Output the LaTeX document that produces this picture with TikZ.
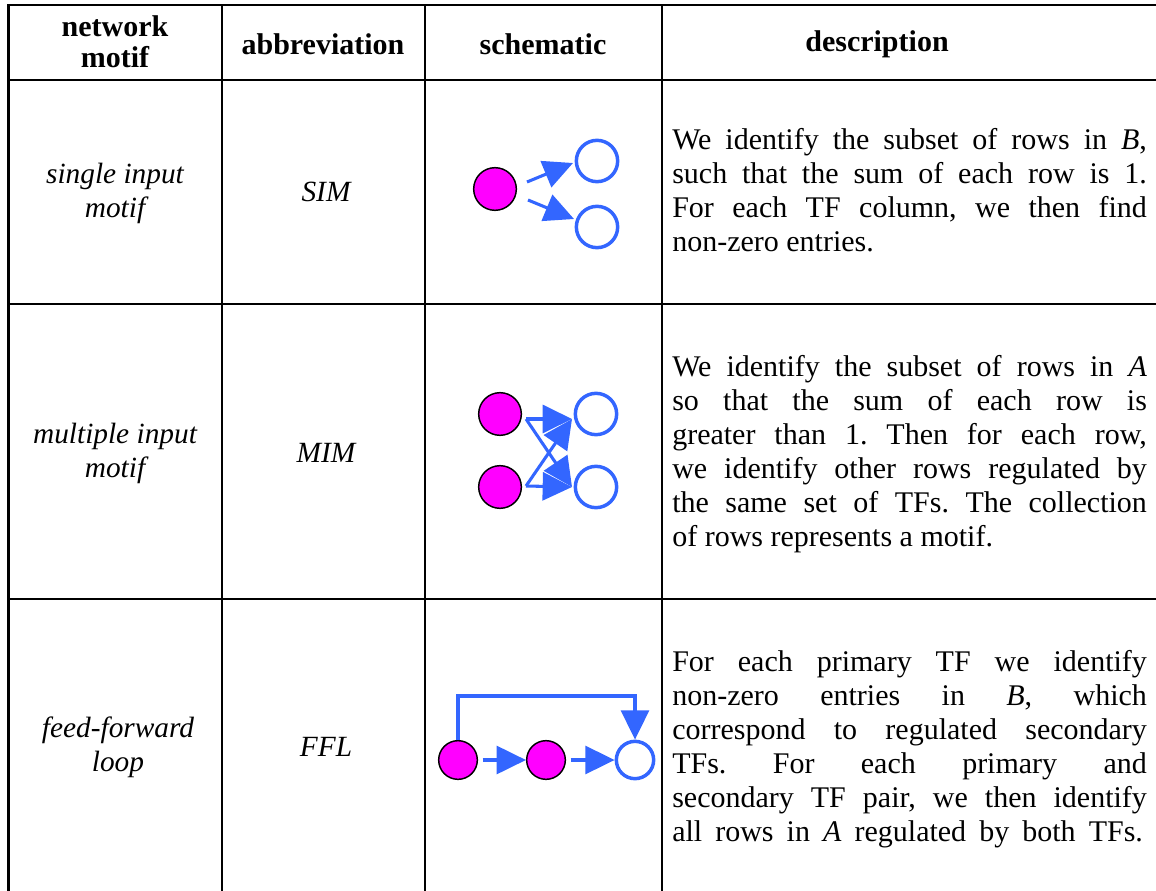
\documentclass[tikz,border=0pt]{standalone}
\usepackage{fontspec}
\setmainfont{Liberation Serif}
\usetikzlibrary{arrows.meta}
\definecolor{netblue}{RGB}{51,102,255}
\definecolor{tfmag}{RGB}{255,0,255}
\frenchspacing

% width of a justified description line
\newlength{\dw}\setlength{\dw}{356pt}
\newcommand{\jl}[1]{\makebox[\dw][s]{#1}}

\begin{document}
\begin{tikzpicture}[x=0.75pt,y=-0.75pt,
  grid/.style={line width=2pt, black, line join=miter},
  tf/.style={circle, draw=black, line width=1.1pt, fill=tfmag, minimum size=#1, inner sep=0pt},
  tf/.default=32pt,
  gene/.style={circle, draw=netblue, line width=2.6pt, fill=white, minimum size=#1, inner sep=0pt},
  gene/.default=31pt,
  reg/.style={draw=netblue, line width=2.3pt, -{Triangle[length=22pt,width=21pt]}},
  hdr/.style={font=\bfseries\fontsize{22.5}{23.5}\selectfont, align=center, inner sep=0pt},
  cell/.style={font=\itshape\fontsize{22}{25.5}\selectfont, align=center, inner sep=0pt},
  desc/.style={font=\fontsize{22.5}{25.5}\selectfont, align=left, anchor=west, inner sep=0pt}]

\useasboundingbox (0,0) rectangle (1156,891);

% table rules
\draw[grid] (8.5,891) -- (8.5,5) -- (1156,5);
\foreach \yy in {80,304,599} \draw[grid] (8.5,\yy) -- (1156,\yy);
\foreach \xx in {222,425,662} \draw[grid] (\xx,5) -- (\xx,891);

% header
\node[hdr] (hmotif) at (115,42) {network\\motif};
\node[hdr] (habbr) at (323,44) {abbreviation};
\node[hdr] (hsch) at (543,44) {schematic};
\node[hdr] (hdesc) at (877,44) {description};

% motif names and abbreviations
\node[cell] (nsim) at (115,193) {single input\\motif};
\node[cell] (asim) at (326,192) {SIM};
\node[cell] (nmim) at (115,453) {multiple input\\motif};
\node[cell] (amim) at (326,453) {MIM};
\node[cell] (nffl) at (118,747) {feed-forward\\loop};
\node[cell] (affl) at (326,747) {FFL};

% descriptions
\node[desc] (dsim) at (672,190) {%
  \jl{We identify the subset of rows in \textit{B},}\\
  \jl{such that the sum of each row is 1.}\\
  \jl{For each TF column, we then find}\\
  non-zero entries.};
\node[desc] (dmim) at (672,454) {%
  \jl{We identify the subset of rows in \textit{A}}\\
  \jl{so that the sum of each row is}\\
  \jl{greater than 1. Then for each row,}\\
  \jl{we identify other rows regulated by}\\
  \jl{the same set of TFs. The collection}\\
  of rows represents a motif.};
\node[desc] (dffl) at (672,749) {%
  \jl{For each primary TF we identify}\\
  \jl{non-zero entries in \textit{B}, which}\\
  \jl{correspond to regulated secondary}\\
  \jl{TFs. For each primary and}\\
  \jl{secondary TF pair, we then identify}\\
  \makebox[353pt][s]{all rows in \textit{A} regulated by both TFs.}};

% single input motif
\node[tf] (s0) at (495,189) {};
\node[gene] (s1) at (597,161) {};
\node[gene] (s2) at (597,227) {};
\coordinate (s0a) at (527,182);
\coordinate (s0b) at (528,200);
\coordinate (s1in) at (573,163);
\coordinate (s2in) at (574,219);
\draw[reg] (s0a) -- (s1in);
\draw[reg] (s0b) -- (s2in);

% multiple input motif
\node[tf] (m1) at (500,414) {};
\node[tf] (m2) at (500,487) {};
\node[gene] (g1) at (596,414) {};
\node[gene] (g2) at (596,487) {};
\coordinate (m1out) at (526,419);
\coordinate (m2out) at (526,486);
\coordinate (g1in) at (572,419);
\coordinate (g2in) at (572,487);
\draw[reg] (m1out) -- (g1in);
\draw[reg] (m1out) -- (g2in);
\draw[reg] (m2out) -- (g1in);
\draw[reg] (m2out) -- (g2in);

% feed-forward loop
\node[tf=29pt] (f1) at (458,760) {};
\node[tf=29pt] (f2) at (546,760) {};
\node[gene=28pt] (f3) at (635,760) {};
\coordinate (fbtop) at (457,696);
\draw[reg, shorten <=3.5pt] (f1) -- (f2);
\draw[reg, shorten <=3.5pt] (f2) -- (f3);
\draw[reg] (f1.north) -- (f1.north |- fbtop) -| (f3.north);
\end{tikzpicture}
\end{document}
